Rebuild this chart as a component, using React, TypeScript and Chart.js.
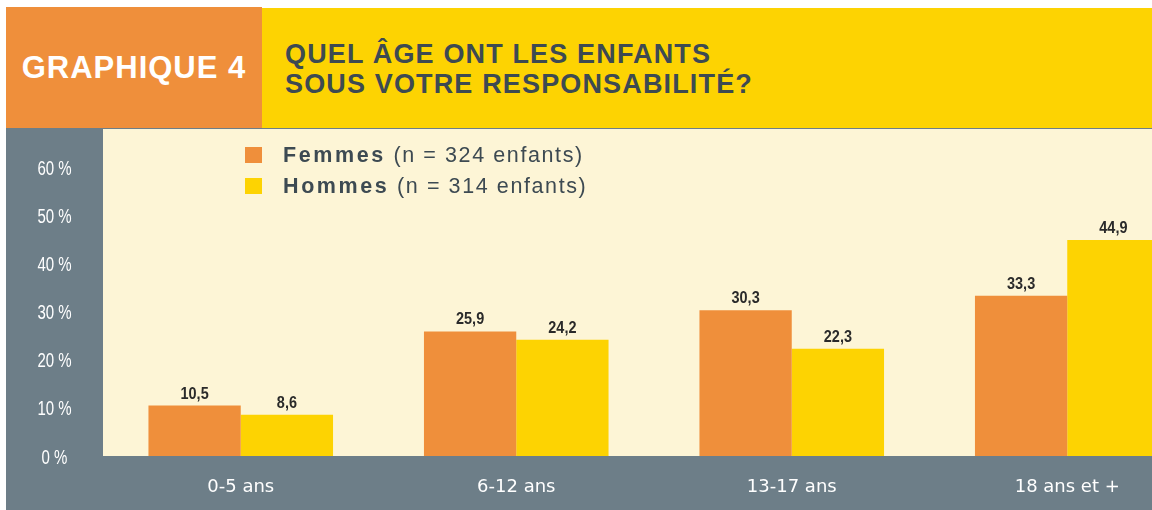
import React, { useEffect, useRef } from "react";
import { Chart, registerables } from "chart.js";

Chart.register(...registerables);

const categories = ["0-5 ans", "6-12 ans", "13-17 ans", "18 ans et +"];
const femmesValues = [10.5, 25.9, 30.3, 33.3];
const hommesValues = [8.6, 24.2, 22.3, 44.9];
const femmesLabel = "Femmes";
const femmesNote = "(n = 324 enfants)";
const hommesLabel = "Hommes";
const hommesNote = "(n = 314 enfants)";
const yTickValues = [0, 10, 20, 30, 40, 50, 60];

const ORANGE = "#ef8f3b";
const YELLOW = "#fdd302";
const GRAY = "#6d7e88";
const CREAM = "#fdf5d6";
const SLATE = "#3d4a52";

const bgPlugin = {
  id: "bgPlugin",
  beforeDraw(chart: any) {
    const { ctx, chartArea, width, height } = chart;
    ctx.save();
    ctx.fillStyle = GRAY;
    ctx.fillRect(0, 0, width, height);
    ctx.fillStyle = CREAM;
    ctx.fillRect(chartArea.left, chartArea.top, chartArea.right - chartArea.left, chartArea.bottom - chartArea.top);
    ctx.restore();
  },
};

// y-axis labels drawn from the library's y scale, horizontally condensed
const yLabelPlugin = {
  id: "yLabelPlugin",
  afterDraw(chart: any) {
    const { ctx, chartArea } = chart;
    const scale = chart.scales.y;
    ctx.save();
    ctx.font = "20px 'Liberation Sans', Arial, sans-serif";
    ctx.fillStyle = "#ffffff";
    ctx.textAlign = "center";
    ctx.textBaseline = "middle";
    scale.ticks.forEach((t: any) => {
      const y = scale.getPixelForValue(t.value) + 2;
      ctx.save();
      ctx.translate(chartArea.left / 2, y);
      ctx.scale(0.75, 1);
      ctx.fillText(`${t.value} %`, 0, 0);
      ctx.restore();
    });
    ctx.restore();
  },
};

const valueLabelPlugin = {
  id: "valueLabelPlugin",
  afterDatasetsDraw(chart: any) {
    const { ctx } = chart;
    ctx.save();
    ctx.font = "bold 17px 'Liberation Sans', Arial, sans-serif";
    ctx.fillStyle = "#2a2a2a";
    ctx.textAlign = "center";
    ctx.textBaseline = "alphabetic";
    chart.data.datasets.forEach((ds: any, di: number) => {
      const meta = chart.getDatasetMeta(di);
      meta.data.forEach((bar: any, i: number) => {
        const v = ds.data[i] as number;
        ctx.save();
        ctx.translate(bar.x, bar.y - 7);
        ctx.scale(0.85, 1);
        ctx.fillText(v.toFixed(1).replace(".", ","), 0, 0);
        ctx.restore();
      });
    });
    ctx.restore();
  },
};

function ChartCanvas() {
  const ref = useRef<HTMLCanvasElement>(null);
  useEffect(() => {
    if (!ref.current) return;
    const chart = new Chart(ref.current, {
      type: "bar",
      data: {
        labels: categories,
        datasets: [
          { label: femmesLabel, data: femmesValues, backgroundColor: ORANGE, borderWidth: 0 },
          { label: hommesLabel, data: hommesValues, backgroundColor: YELLOW, borderWidth: 0 },
        ],
      },
      options: {
        responsive: false,
        animation: false,
        devicePixelRatio: 1,
        layout: { padding: { top: 1, right: 0, left: 0, bottom: 0 } },
        plugins: { legend: { display: false }, tooltip: { enabled: false } },
        datasets: { bar: { categoryPercentage: 0.67, barPercentage: 1 } },
        scales: {
          x: {
            grid: { display: false },
            border: { display: false },
            ticks: {
              color: "#ffffff",
              font: { family: "'DejaVu Sans', sans-serif", size: 18 },
              padding: 13,
            },
            afterFit(scale: any) {
              scale.height = 54;
            },
          },
          y: {
            min: 0,
            max: 68,
            grid: { display: false },
            border: { display: false },
            afterBuildTicks(scale: any) {
              scale.ticks = yTickValues.map((v) => ({ value: v }));
            },
            ticks: { display: false },
            afterFit(scale: any) {
              scale.width = 97;
              scale.paddingTop = 0;
              scale.paddingBottom = 0;
            },
          },
        },
      } as any,
      plugins: [bgPlugin, valueLabelPlugin, yLabelPlugin],
    });
    return () => chart.destroy();
  }, []);
  return <canvas ref={ref} width={1199} height={382} style={{ display: "block" }} />;
}

export default function App() {
  const legendText: React.CSSProperties = {
    fontFamily: "'Liberation Sans', Arial, sans-serif",
    fontSize: 21.5,
    letterSpacing: 1.6,
    color: SLATE,
    whiteSpace: "nowrap",
    lineHeight: "24px",
  };
  const square = (c: string): React.CSSProperties => ({
    position: "absolute",
    left: 0,
    top: 4,
    width: 17,
    height: 16,
    background: c,
  });
  return (
    <div style={{ position: "absolute", left: 0, top: 0, width: 1152, height: 510, overflow: "hidden", background: "#ffffff" }}>
      <div style={{ position: "absolute", left: 6, top: 128, width: 1199, height: 382 }}>
        <ChartCanvas />
      </div>
      <div
        style={{
          position: "absolute", left: 6, top: 7, width: 256, height: 121, background: ORANGE,
          display: "flex", alignItems: "center", justifyContent: "center",
          fontFamily: "'Liberation Sans', Arial, sans-serif", fontWeight: "bold", fontSize: 31,
          letterSpacing: 1.0, color: "#ffffff", whiteSpace: "nowrap",
        }}
      >
        GRAPHIQUE 4
      </div>
      <div
        style={{
          position: "absolute", left: 262, top: 8, width: 900, height: 120, background: YELLOW,
        }}
      >
        <div
          style={{
            position: "absolute", left: 23, top: 31,
            fontFamily: "'Liberation Sans', Arial, sans-serif", fontWeight: "bold", fontSize: 27,
            letterSpacing: 1.15, lineHeight: "30px", color: SLATE, whiteSpace: "nowrap",
          }}
        >
          QUEL ÂGE ONT LES ENFANTS
          <br />
          SOUS VOTRE RESPONSABILITÉ?
        </div>
      </div>
      <div style={{ position: "absolute", left: 245, top: 143, width: 420, height: 24 }}>
        <div style={square(ORANGE)} />
        <div style={{ ...legendText, position: "absolute", left: 38, top: 0 }}>
          <span style={{ fontWeight: "bold", letterSpacing: 2.6 }}>{femmesLabel}</span> {femmesNote}
        </div>
      </div>
      <div style={{ position: "absolute", left: 245, top: 174, width: 420, height: 24 }}>
        <div style={square(YELLOW)} />
        <div style={{ ...legendText, position: "absolute", left: 38, top: 0 }}>
          <span style={{ fontWeight: "bold", letterSpacing: 2.6 }}>{hommesLabel}</span> {hommesNote}
        </div>
      </div>
    </div>
  );
}
